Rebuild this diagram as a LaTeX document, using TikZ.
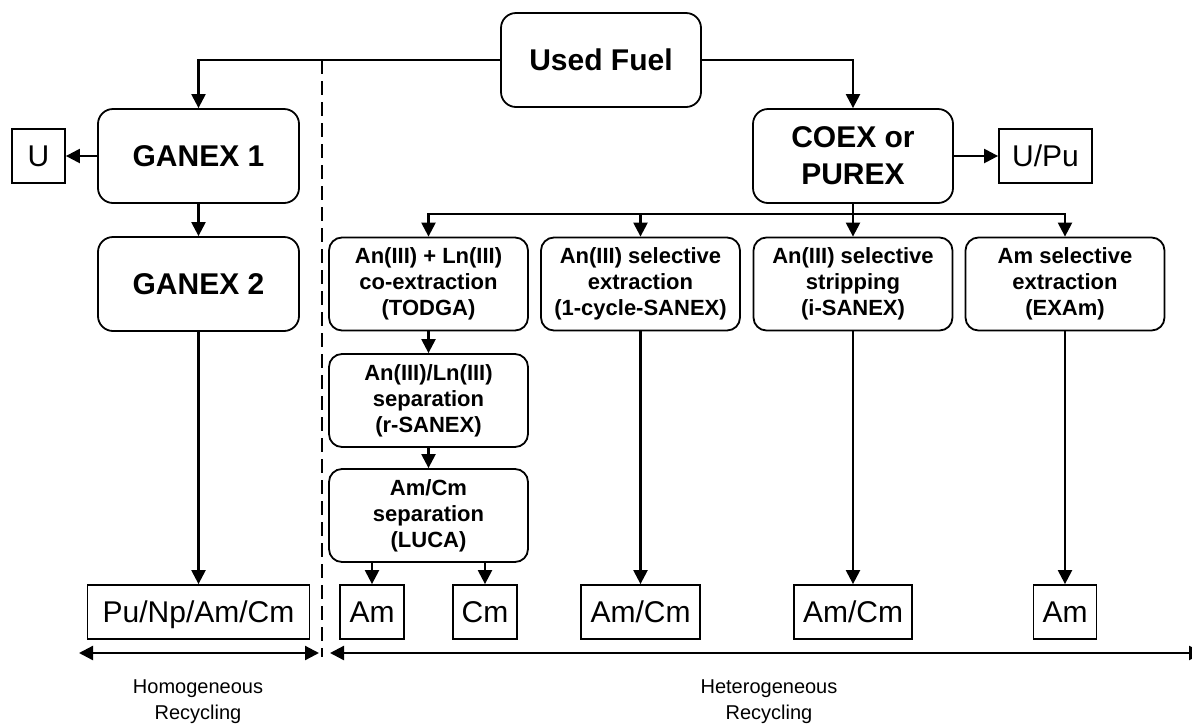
\documentclass[tikz,border=0pt]{standalone}
\usepackage{fontspec}
\setmainfont{Liberation Sans}
\usetikzlibrary{arrows.meta}
\tikzset{
 bigbox/.style={draw, line width=1.8pt, rounded corners=15pt, minimum width=200pt, minimum height=94pt, align=center, font=\fontsize{30}{37}\selectfont\bfseries, inner sep=0pt},
 smallbox/.style={draw, line width=1.8pt, rounded corners=13pt, minimum width=199pt, minimum height=93pt, align=center, font=\fontsize{22}{26}\selectfont\bfseries, inner sep=0pt},
 outbox/.style={draw, line width=1.8pt, minimum height=54pt, inner sep=0pt, text height=21.5pt, text depth=0pt, font=\fontsize{30}{36}\selectfont},
 tip/.tip={Triangle[length=14pt,width=14pt]},
 arr/.style={line width=2.3pt, -tip},
 dblarr/.style={line width=2.3pt, tip-tip},
 conn/.style={line width=2.3pt},
 divider/.style={line width=2.2pt, dash pattern=on 14pt off 7pt},
 lbl/.style={align=center, font=\fontsize{20}{26}\selectfont}
}
\begin{document}
\begin{tikzpicture}[x=1pt,y=-1pt]
\useasboundingbox (0,0) rectangle (1192,724);
\clip (0,0) rectangle (1192,724);
% main nodes
\node[bigbox] (fuel) at (601,60) {Used Fuel};
\node[bigbox, minimum width=201pt] (g1) at (198.5,156) {GANEX 1};
\node[bigbox, minimum width=201pt] (g2) at (198.5,284) {GANEX 2};
\node[bigbox] (coex) at (853,156) {COEX or\\PUREX};
\node[outbox, minimum width=53pt] (u) at (38.5,156) {U};
\node[outbox, minimum width=93pt] (upu) at (1045.5,156) {U/Pu};
% process boxes
\node[smallbox] (todga) at (428.5,284) {An(III) + Ln(III)\\co-extraction\\(TODGA)};
\node[smallbox] (sanex1) at (640.5,284) {An(III) selective\\extraction\\(1-cycle-SANEX)};
\node[smallbox] (isanex) at (853,284) {An(III) selective\\stripping\\(i-SANEX)};
\node[smallbox] (exam) at (1065,284) {Am selective\\extraction\\(EXAm)};
\node[smallbox] (rsanex) at (428.5,400.5) {An(III)/Ln(III)\\separation\\(r-SANEX)};
\node[smallbox] (luca) at (428.5,515.5) {Am/Cm\\separation\\(LUCA)};
% products
\node[outbox, minimum width=222pt] (pu) at (198.5,612) {Pu/Np/Am/Cm};
\node[outbox, minimum width=64pt] (am1) at (372,612) {Am};
\node[outbox, minimum width=64pt] (cm) at (485,612) {Cm};
\node[outbox, minimum width=119pt] (amcm1) at (640.5,612) {Am/Cm};
\node[outbox, minimum width=118pt] (amcm2) at (853,612) {Am/Cm};
\node[outbox, minimum width=63pt] (am2) at (1065,612) {Am};
% connectors
\draw[arr] (fuel.west) -| (g1.north);
\draw[arr] (fuel.east) -| (coex.north);
\draw[arr] (g1.west) -- (u.east);
\draw[arr] (coex.east) -- (upu.west);
\draw[arr] (g1.south) -- (g2.north);
\draw[arr] (g2.south) -- (pu.north);
\coordinate (bar) at (853,214);
\draw[conn] (coex.south) -- (bar);
\draw[arr] (bar) -| (todga.north);
\draw[arr] (bar) -| (sanex1.north);
\draw[arr] (bar) -- (isanex.north);
\draw[arr] (bar) -| (exam.north);
\draw[arr] (todga.south) -- (rsanex.north);
\draw[arr] (rsanex.south) -- (luca.north);
\draw[arr] (am1.north |- luca.south) -- (am1.north);
\draw[arr] (cm.north |- luca.south) -- (cm.north);
\draw[arr] (sanex1.south) -- (amcm1.north);
\draw[arr] (isanex.south) -- (amcm2.north);
\draw[arr] (exam.south) -- (am2.north);
% divider and ranges
\coordinate (dtop) at (322,60);
\coordinate (dbot) at (322,657);
\draw[divider] (dtop) -- (dbot);
\coordinate (h1) at (79,653);
\coordinate (h2) at (319,653);
\coordinate (h3) at (330,653);
\coordinate (h4) at (1203,653);
\draw[dblarr] (h1) -- (h2);
\draw[dblarr] (h3) -- (h4);
\node[lbl] (homo) at (198,702) {Homogeneous\\Recycling};
\node[lbl] (hetero) at (769,702) {Heterogeneous\\Recycling};
\end{tikzpicture}
\end{document}
